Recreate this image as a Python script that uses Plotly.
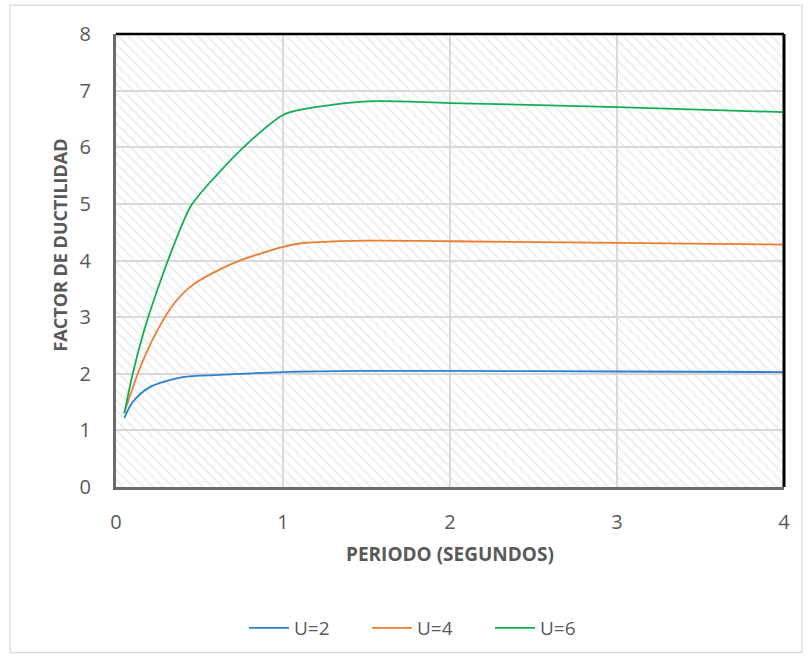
import plotly.graph_objects as go

# ---- data ----
t_u2 = [0.05, 0.1, 0.2, 0.4, 0.62, 1.0, 1.5, 2.0, 3.0, 4.0]
u2 = [1.22, 1.5, 1.76, 1.94, 1.98, 2.03, 2.05, 2.05, 2.04, 2.03]

t_u4 = [0.05, 0.15, 0.25, 0.35, 0.46, 0.7, 1.0, 1.1, 1.5, 2.0, 3.0, 4.0]
u4 = [1.32, 2.15, 2.78, 3.25, 3.57, 3.95, 4.24, 4.3, 4.35, 4.34, 4.31, 4.28]

t_u6 = [0.05, 0.1, 0.17, 0.25, 0.35, 0.45, 0.6, 0.8, 1.0, 1.1, 1.5, 2.0, 3.0, 4.0]
u6 = [1.3, 2.0, 2.78, 3.5, 4.3, 4.97, 5.5, 6.1, 6.57, 6.66, 6.81, 6.78, 6.71, 6.62]

series_names = ["U=2", "U=4", "U=6"]
series_colors = ["#2F80D0", "#ED7D31", "#13AD55"]

x_range = [0, 4]
y_range = [0, 8]
x_ticks = [0, 1, 2, 3, 4]
y_ticks = [0, 1, 2, 3, 4, 5, 6, 7, 8]

x_title = "PERIODO (SEGUNDOS)"
y_title = "FACTOR DE DUCTILIDAD"

fig = go.Figure()

# hatched plot-area background
fig.add_trace(go.Scatter(
    x=[x_range[0], x_range[1], x_range[1], x_range[0], x_range[0]],
    y=[y_range[0], y_range[0], y_range[1], y_range[1], y_range[0]],
    fill="toself", mode="lines", line=dict(width=0),
    fillcolor="rgba(0,0,0,0)",
    fillpattern=dict(shape="\\", fgcolor="#dadada", bgcolor="rgba(255,255,255,0)",
                     size=7, solidity=0.25),
    hoverinfo="skip", showlegend=False,
))

for xs, ys, name, color in zip([t_u2, t_u4, t_u6], [u2, u4, u6], series_names, series_colors):
    fig.add_trace(go.Scatter(
        x=xs, y=ys, name=name, mode="lines",
        line=dict(color=color, width=1.8, shape="spline", smoothing=0.8),
    ))

W, H = 809, 658
L, R, T, B = 116, 25, 34, 170
pw, ph = W - L - R, H - T - B

def px_x(p):
    return (p - L) / pw

def px_y(p):
    return (H - B - p) / ph

shapes = [
    # outer chart border
    dict(type="rect", xref="paper", yref="paper",
         x0=px_x(10), x1=px_x(802), y0=px_y(654), y1=px_y(5),
         line=dict(color="#d9d9d9", width=1.3), layer="below"),
    # top and right plot border (black)
    dict(type="line", xref="paper", yref="paper", x0=0, x1=1, y0=1, y1=1,
         line=dict(color="#000000", width=2.5)),
    dict(type="line", xref="paper", yref="paper", x0=1, x1=1, y0=0, y1=1,
         line=dict(color="#000000", width=3)),
]

annotations = [
    dict(text="<b>" + y_title + "</b>", textangle=-90, xref="paper", yref="paper",
         x=px_x(60), y=px_y(246), xanchor="center", yanchor="middle", showarrow=False,
         font=dict(size=18, color="#595959")),
    dict(text="<b>" + x_title + "</b>", xref="paper", yref="paper",
         x=px_x(450), y=px_y(555), xanchor="center", yanchor="middle", showarrow=False,
         font=dict(size=19, color="#595959")),
]

fig.update_layout(
    width=W, height=H,
    margin=dict(l=L, r=R, t=T, b=B),
    paper_bgcolor="white", plot_bgcolor="white",
    font=dict(family="Open Sans, Liberation Sans, sans-serif", color="#595959", size=15),
    shapes=shapes,
    annotations=annotations,
    legend=dict(orientation="h", x=px_x(244), xanchor="left", y=px_y(628), yanchor="middle",
                font=dict(size=19, color="#595959"), itemwidth=40,
                entrywidth=68, entrywidthmode="pixels"),
    xaxis=dict(range=x_range, tickvals=x_ticks, showgrid=True, gridcolor="#d9d9d9", gridwidth=2,
               zeroline=False, showline=True, linecolor="#6b6b6b", linewidth=3,
               ticks="outside", ticklen=15, tickcolor="rgba(0,0,0,0)",
               tickfont=dict(size=20, color="#595959")),
    yaxis=dict(range=y_range, tickvals=y_ticks, showgrid=True, gridcolor="#d9d9d9", gridwidth=2,
               zeroline=False, showline=True, linecolor="#6b6b6b", linewidth=3,
               ticks="outside", ticklen=18, tickcolor="rgba(0,0,0,0)",
               tickfont=dict(size=20, color="#595959")),
)

fig.write_html("out.html")
